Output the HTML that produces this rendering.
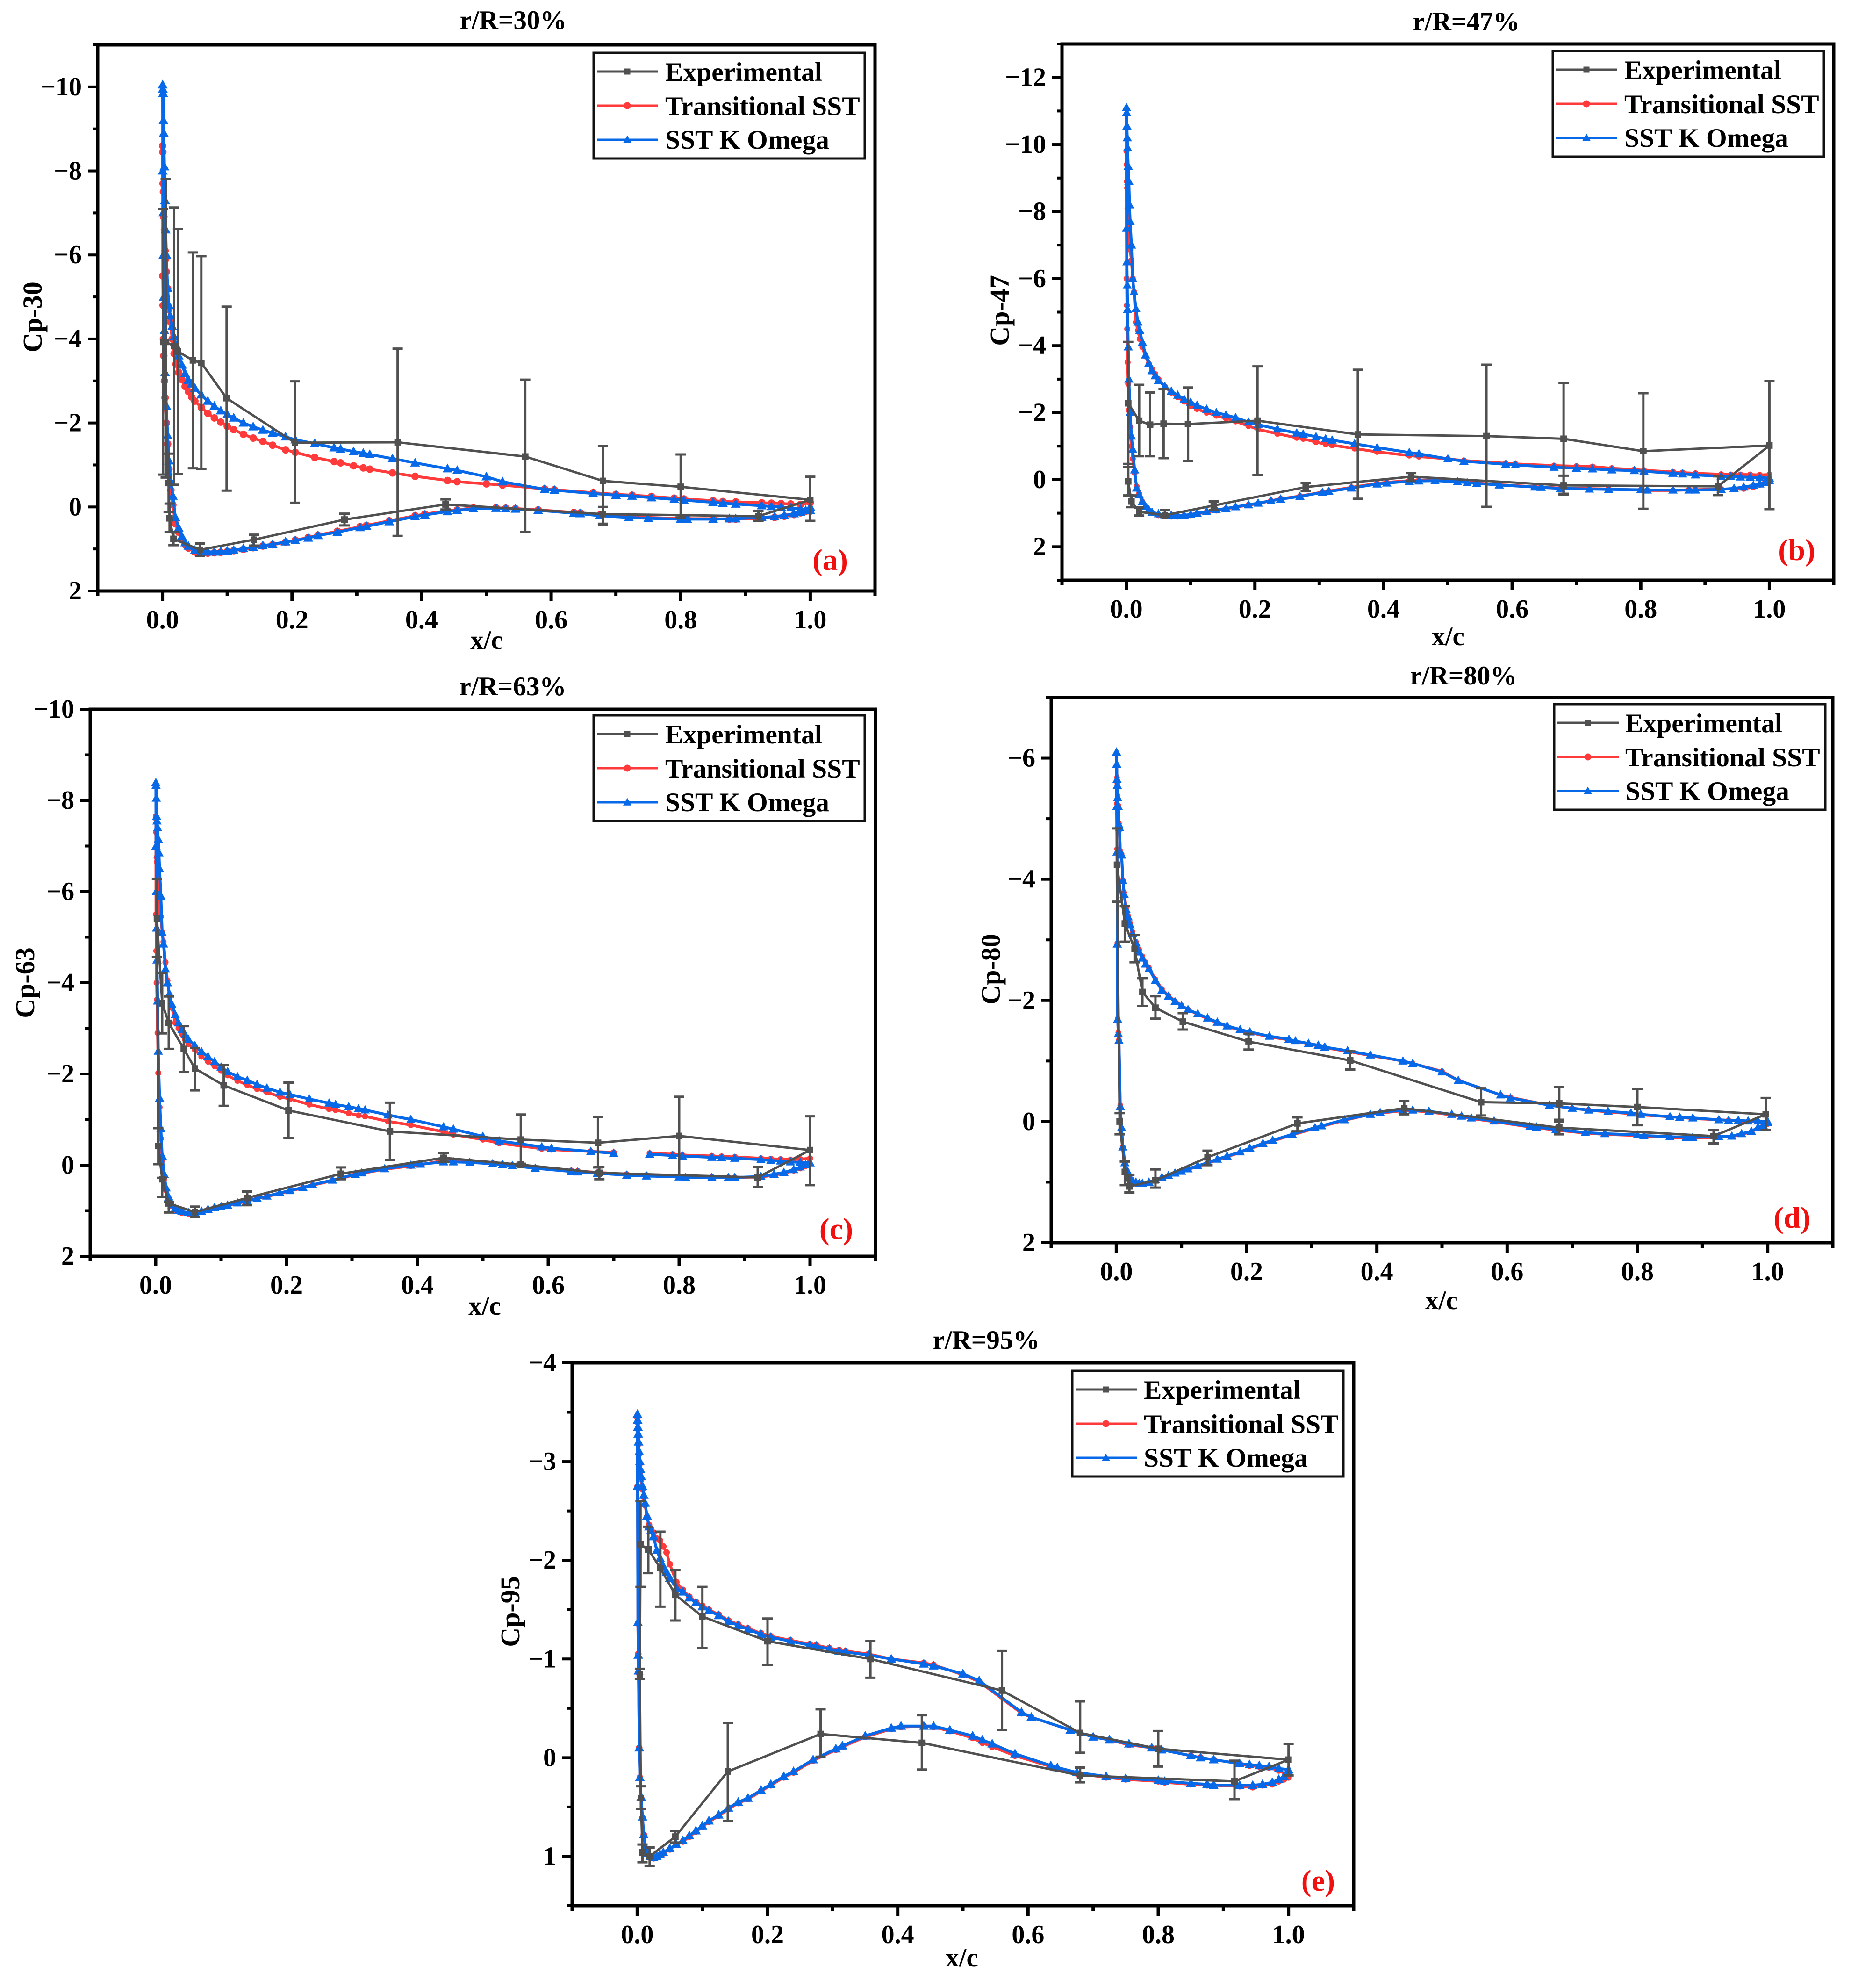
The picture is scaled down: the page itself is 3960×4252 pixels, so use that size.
<!DOCTYPE html>
<html lang="en">
<head>
<meta charset="utf-8">
<title>Pressure coefficient distributions at five radial stations</title>
<style>
html,body{margin:0;padding:0;background:#fff;}
svg{display:block;}
text{font-family:"Liberation Serif",serif;font-weight:bold;fill:#000;}
</style>
</head>
<body>
<svg id="figure" xmlns="http://www.w3.org/2000/svg" width="3960" height="4252" viewBox="0 0 3960 4252">
  <rect width="3960" height="4252" fill="#fff"/>

  <g id="panel-a">
    <text x="1098" y="62" font-size="57" text-anchor="middle">r/R=30%</text>
    <text x="1041" y="1388" font-size="57" text-anchor="middle">x/c</text>
    <text transform="translate(89 678) rotate(-90)" font-size="58" text-anchor="middle">Cp-30</text>
    <text x="1776" y="1219" font-size="65" text-anchor="middle" style="fill:#f01010">(a)</text>
    <text x="1423" y="173" font-size="57.6">Experimental</text>
    <text x="1423" y="246" font-size="57.6">Transitional SST</text>
    <text x="1423" y="318" font-size="57.6">SST K Omega</text>
  </g>

  <g id="panel-b">
    <text x="3137" y="65" font-size="57" text-anchor="middle">r/R=47%</text>
    <text x="3098" y="1380" font-size="57" text-anchor="middle">x/c</text>
    <text transform="translate(2158 664) rotate(-90)" font-size="58" text-anchor="middle">Cp-47</text>
    <text x="3844" y="1198" font-size="65" text-anchor="middle" style="fill:#f01010">(b)</text>
    <text x="3475" y="169" font-size="57.6">Experimental</text>
    <text x="3475" y="242" font-size="57.6">Transitional SST</text>
    <text x="3475" y="314" font-size="57.6">SST K Omega</text>
  </g>

  <g id="panel-c">
    <text x="1097" y="1487" font-size="57" text-anchor="middle">r/R=63%</text>
    <text x="1037" y="2812" font-size="57" text-anchor="middle">x/c</text>
    <text transform="translate(73 2102) rotate(-90)" font-size="58" text-anchor="middle">Cp-63</text>
    <text x="1789" y="2650" font-size="65" text-anchor="middle" style="fill:#f01010">(c)</text>
    <text x="1423" y="1590" font-size="57.6">Experimental</text>
    <text x="1423" y="1663" font-size="57.6">Transitional SST</text>
    <text x="1423" y="1735" font-size="57.6">SST K Omega</text>
  </g>

  <g id="panel-d">
    <text x="3131" y="1464" font-size="57" text-anchor="middle">r/R=80%</text>
    <text x="3084" y="2800" font-size="57" text-anchor="middle">x/c</text>
    <text transform="translate(2139 2073) rotate(-90)" font-size="58" text-anchor="middle">Cp-80</text>
    <text x="3834" y="2626" font-size="65" text-anchor="middle" style="fill:#f01010">(d)</text>
    <text x="3477" y="1566" font-size="57.6">Experimental</text>
    <text x="3477" y="1639" font-size="57.6">Transitional SST</text>
    <text x="3477" y="1711" font-size="57.6">SST K Omega</text>
  </g>

  <g id="panel-e">
    <text x="2110" y="2885" font-size="57" text-anchor="middle">r/R=95%</text>
    <text x="2058" y="4206" font-size="57" text-anchor="middle">x/c</text>
    <text transform="translate(1111 3447) rotate(-90)" font-size="58" text-anchor="middle">Cp-95</text>
    <text x="2820" y="4044" font-size="65" text-anchor="middle" style="fill:#f01010">(e)</text>
    <text x="2447" y="2992" font-size="57.6">Experimental</text>
    <text x="2447" y="3065" font-size="57.6">Transitional SST</text>
    <text x="2447" y="3137" font-size="57.6">SST K Omega</text>
  </g>
</svg>

<script>
// ---- Shared chordwise stations ----
const suctionX = [
 .0003,.0006,.001,.0015,.002,.003,.004,.005,.006,.008,
 .01,.012,.015,.018,.021,.025,.03,.035,.04,.045,
 .05,.06,.07,.08,.09,.10,.11,.125,.14,.155,
 .17,.19,.205,.235,.265,.275,.295,.31,.32,.355,
 .39,.44,.455,.5,.525,.59,.605,.665,.70,.725,
 .755,.79,.805,.85,.865,.885,.925,.94,.955,.97,
 .985,1.0];
const pressureX = [
 .0005,.001,.0015,.002,.003,.004,.006,.008,.01,.013,
 .016,.02,.025,.03,.035,.04,.05,.06,.07,.08,
 .09,.10,.11,.125,.14,.155,.17,.19,.205,.225,
 .24,.27,.305,.315,.35,.39,.405,.44,.455,.48,
 .515,.53,.545,.58,.635,.645,.675,.72,.75,.8,
 .81,.85,.875,.885,.925,.945,.96,.975,.985,.993,
 1.0];
const xTicks = [0,.2,.4,.6,.8,1.0];
const xTickLabels = ['0.0','0.2','0.4','0.6','0.8','1.0'];
const xMinorTicks = [-.1,.1,.3,.5,.7,.9,1.1];

// ---- Panel (a) r/R=30% ----
const aYTicks = [-10,-8,-6,-4,-2,0,2];
const aYTickLabels = ['\u221210','\u22128','\u22126','\u22124','\u22122','0','2'];
const aYMinor = [-11,-9,-7,-5,-3,-1,1];
const aSstSuction = [
 -10.05,-9.95,-9.85,-9.2,-8.9,-8.1,-7.3,-6.6,-6.0,-5.2,
 -4.8,-4.55,-4.3,-4.05,-3.85,-3.6,-3.38,-3.18,-3.02,-2.93,
 -2.83,-2.67,-2.52,-2.4,-2.29,-2.2,-2.12,-2.0,-1.91,-1.83,
 -1.76,-1.67,-1.6,-1.51,-1.41,-1.38,-1.32,-1.28,-1.25,-1.15,
 -1.05,-.91,-.87,-.72,-.6,-.42,-.4,-.32,-.28,-.26,
 -.22,-.18,-.16,-.11,-.09,-.07,-.03,-.01,0,.02,
 .05,.08];
const aSstPressure = [
 -8.0,-7,-6,-5,-4.2,-3.2,-2.4,-1.7,-1.1,-.6,
 -.26,.25,.5,.7,.85,.93,1.03,1.06,1.07,1.07,
 1.06,1.05,1.03,.99,.96,.92,.89,.83,.8,.74,
 .68,.6,.49,.46,.35,.23,.19,.11,.08,.04,
 .03,.04,.05,.08,.15,.16,.21,.25,.27,.29,
 .29,.29,.28,.28,.25,.23,.2,.16,.12,.08,
 0];
const aTransSuction = [
 -8.6,-8.45,-7.7,-7.5,-6.9,-6.6,-6.1,-5.9,-5.6,-5.2,
 -4.7,-4.4,-4.0,-3.65,-3.4,-3.2,-3.03,-2.87,-2.75,-2.62,
 -2.52,-2.37,-2.23,-2.12,-2.02,-1.92,-1.84,-1.73,-1.64,-1.56,
 -1.47,-1.36,-1.3,-1.18,-1.08,-1.05,-.98,-.93,-.9,-.81,
 -.73,-.63,-.6,-.55,-.52,-.43,-.41,-.34,-.3,-.28,
 -.25,-.21,-.19,-.15,-.13,-.12,-.1,-.09,-.08,-.07,
 -.06,-.1];
const aTransPressure = [
 -5.5,-4.8,-4,-3.6,-3,-2.6,-2,-1.5,-.9,-.4,
 -.05,.4,.6,.78,.9,.98,1.07,1.09,1.1,1.09,
 1.08,1.06,1.04,1.01,.97,.93,.9,.84,.79,.73,
 .67,.58,.47,.44,.33,.21,.17,.09,.07,.02,
 .02,.03,.04,.07,.13,.14,.19,.23,.25,.28,
 .28,.28,.29,.29,.27,.25,.22,.18,.14,.1,
 .1];
const aExpX = [1.0,.8,.68,.56,.363,.2045,.099,.06,.047,.024,.018,.005,.001,.0095,.011,.017,.058,.141,.281,.437,.68,.92];
const aExpCp = [-.17,-.48,-.62,-1.2,-1.54,-1.53,-2.59,-3.43,-3.49,-3.7,-3.83,-3.93,-3.93,-.57,.27,.76,1.02,.78,.3,-.06,.17,.22];
const aExpTop = [-.72,-1.25,-1.45,-3.03,-3.77,-2.99,-4.77,-5.97,-6.06,-6.62,-7.13,-7.8,-7.09,-1.27,-.08,.6,.87,.66,.16,-.18,0,.1];
const aExpBottom = [.33,.25,.42,.6,.69,-.1,-.39,-.9,-.92,-.78,-.53,-.7,-.77,.12,.6,.91,1.16,.92,.44,.06,.4,.33];

// ---- Panel (b) r/R=47% ----
const bYTicks = [-12,-10,-8,-6,-4,-2,0,2];
const bYTickLabels = ['\u221212','\u221210','\u22128','\u22126','\u22124','\u22122','0','2'];
const bYMinor = [-13,-11,-9,-7,-5,-3,-1,1,3];
const bSstSuction = [
 -11.1,-10.95,-10.55,-10.2,-9.9,-9.35,-8.9,-8.2,-7.7,-7.0,
 -6.0,-5.6,-5.1,-4.7,-4.45,-4.1,-3.72,-3.47,-3.25,-3.1,
 -2.96,-2.78,-2.64,-2.52,-2.4,-2.31,-2.22,-2.1,-2.0,-1.93,
 -1.85,-1.72,-1.64,-1.51,-1.39,-1.36,-1.28,-1.22,-1.18,-1.07,
 -.96,-.81,-.77,-.62,-.55,-.46,-.44,-.37,-.34,-.32,
 -.29,-.27,-.25,-.19,-.17,-.14,-.1,-.09,-.08,-.07,
 -.06,-.05];
const bSstPressure = [
 -7.5,-6.5,-5.8,-5.08,-3.96,-3.0,-2.0,-1.3,-.9,-.29,
 .25,.45,.65,.8,.9,.97,1.02,1.05,1.06,1.07,
 1.06,1.04,1.0,.95,.9,.86,.81,.75,.7,.63,
 .58,.5,.38,.35,.25,.13,.1,.05,.04,.03,
 .06,.09,.11,.16,.22,.23,.26,.28,.29,.3,
 .31,.31,.31,.31,.29,.26,.22,.17,.13,.08,
 .03];
const bTransSuction = [
 -9.8,-9.4,-8.9,-8.7,-8.1,-7.8,-7.4,-7.1,-6.85,-6.55,
 -6.0,-5.6,-4.7,-4.45,-4.2,-3.95,-3.68,-3.46,-3.3,-3.15,
 -3.0,-2.78,-2.6,-2.46,-2.33,-2.2,-2.11,-2.0,-1.91,-1.83,
 -1.74,-1.6,-1.5,-1.37,-1.25,-1.22,-1.12,-1.06,-1.03,-.93,
 -.83,-.72,-.69,-.62,-.57,-.49,-.47,-.42,-.4,-.39,
 -.34,-.3,-.28,-.23,-.21,-.19,-.16,-.15,-.15,-.15,
 -.14,-.15];
const bTransPressure = [
 -6.0,-5.2,-4.5,-3.5,-2.86,-2.07,-1.57,-1.0,-.62,-.2,
 .2,.42,.66,.82,.93,1.0,1.06,1.09,1.1,1.1,
 1.08,1.06,1.02,.97,.92,.87,.82,.76,.71,.63,
 .57,.49,.37,.34,.23,.11,.08,.03,.02,.02,
 .05,.07,.1,.15,.21,.22,.25,.27,.28,.31,
 .32,.32,.3,.3,.28,.28,.27,.22,.15,.1,
 .05];
const bExpX = [1.0,.804,.68,.56,.36,.204,.096,.058,.037,.02,.003,.003,.008,.02,.06,.136,.279,.443,.68,.92];
const bExpCp = [-1.02,-.85,-1.22,-1.3,-1.35,-1.76,-1.66,-1.67,-1.64,-1.76,-2.28,.05,.65,.96,1.06,.77,.22,-.09,.17,.2];
const bExpTop = [-2.95,-2.58,-2.89,-3.43,-3.28,-3.38,-2.75,-2.7,-2.6,-2.83,-4.11,-.37,.47,.83,.9,.65,.1,-.2,-.12,-.1];
const bExpBottom = [.88,.87,.42,.81,.57,-.14,-.55,-.64,-.7,-.7,-.47,.47,.82,1.07,1.1,.9,.34,.04,.44,.46];

// ---- Panel (c) r/R=63% ----
const cYTicks = [-10,-8,-6,-4,-2,0,2];
const cYTickLabels = ['\u221210','\u22128','\u22126','\u22124','\u22122','0','2'];
const cYMinor = [-9,-7,-5,-3,-1,1];
const cSstSuction = [
 -8.39,-8.33,-8.05,-7.65,-7.55,-7.4,-7.15,-6.85,-6.5,-5.9,
 -5.1,-4.85,-4.3,-4.0,-3.76,-3.52,-3.3,-3.12,-2.97,-2.86,
 -2.76,-2.62,-2.49,-2.38,-2.27,-2.15,-2.05,-1.94,-1.86,-1.77,
 -1.69,-1.6,-1.55,-1.45,-1.36,-1.33,-1.28,-1.24,-1.21,-1.1,
 -1.0,-.84,-.79,-.63,-.53,-.4,-.37,-.3,-.26,null,
 -.24,-.21,-.2,-.17,-.16,-.15,-.12,-.1,-.09,-.07,
 -.06,-.05];
const cSstPressure = [
 -7.0,-6.0,-5.2,-4.5,-3.6,-2.5,-1.47,-.8,-.2,.2,
 .5,.7,.87,.95,1.0,1.02,1.04,1.04,1.01,.97,
 .93,.91,.88,.83,.78,.73,.68,.61,.56,.49,
 .43,.33,.2,.17,.08,0,-.02,-.07,-.07,-.06,
 -.03,-.01,.01,.07,.14,.15,.18,.22,.24,.26,
 .27,.27,.27,.27,.25,.2,.16,.1,.04,-.01,
 -.05];
const cTransSuction = [
 -7.65,-7.6,-7.3,-6.75,-6.65,-6.3,-6.05,-5.75,-5.5,-5.45,
 -5.1,-4.9,-4.45,-4.05,-3.72,-3.45,-3.12,-3.0,-2.88,-2.76,
 -2.66,-2.53,-2.38,-2.27,-2.17,-2.07,-1.97,-1.85,-1.76,-1.67,
 -1.6,-1.5,-1.45,-1.33,-1.23,-1.21,-1.14,-1.09,-1.07,-.96,
 -.88,-.73,-.67,-.56,-.48,-.36,-.34,-.3,-.28,null,
 -.26,-.24,-.22,-.2,-.19,-.18,-.15,-.14,-.13,-.12,
 -.13,-.15];
const cTransPressure = [
 -5.5,-4.7,-4.0,-3.63,-2.9,-2.02,-1.27,-.58,-.1,.3,
 .55,.73,.9,.98,1.02,1.05,1.07,1.06,1.02,.98,
 .94,.91,.88,.84,.79,.73,.69,.62,.57,.5,
 .44,.34,.21,.18,.09,.02,-.01,-.1,-.1,-.08,
 -.04,-.02,0,.06,.12,.13,.16,.2,.22,.25,
 .26,.26,.27,.27,.26,.22,.18,.12,.07,.02,
 -.15];
const cExpX = [1.0,.8,.676,.558,.358,.203,.104,.06,.043,.02,.01,.002,.004,.01,.02,.06,.14,.283,.44,.558,.678,.92];
const cExpCp = [-.33,-.64,-.49,-.56,-.74,-1.2,-1.75,-2.12,-2.55,-3.12,-3.55,-5.41,-.42,.31,.84,1.03,.72,.19,-.16,-.01,.17,.27];
const cExpTop = [-1.07,-1.5,-1.06,-1.11,-1.37,-1.81,-2.2,-2.57,-3.05,-3.7,-4.22,-6.28,-.81,.28,.81,.91,.58,.05,-.27,-.03,.04,.04];
const cExpBottom = [.44,.22,.05,-.01,-.11,-.6,-1.3,-1.64,-2.04,-2.55,-2.89,-4.56,-.02,.7,1.04,1.14,.88,.31,-.07,.02,.31,.48];

// ---- Panel (d) r/R=80% ----
const dYTicks = [-6,-4,-2,0,2];
const dYTickLabels = ['\u22126','\u22124','\u22122','0','2'];
const dYMinor = [-7,-5,-3,-1,1];
const dSstSuction = [
 -6.1,-5.9,-5.65,-5.55,-5.35,-5.2,-4.9,-4.85,-4.45,-4.4,
 -3.98,-3.75,-3.5,-3.38,-3.25,-3.1,-2.95,-2.8,-2.7,-2.6,
 -2.52,-2.33,-2.17,-2.07,-1.98,-1.91,-1.85,-1.78,-1.71,-1.64,
 -1.58,-1.52,-1.48,-1.41,-1.36,-1.33,-1.29,-1.26,-1.23,-1.17,
 -1.1,-1.0,-.96,-.82,-.68,-.44,-.39,-.27,-.22,-.19,
 -.17,-.14,-.12,-.08,-.07,-.06,-.03,-.02,-.02,-.01,
 -.01,0];
const dSstPressure = [
 -5.2,-4.45,-2.93,-1.69,-1.45,-1.34,-.25,.1,.42,.68,
 .8,.92,.98,1.0,1.02,1.02,1.0,.96,.92,.89,
 .85,.82,.78,.73,.68,.62,.57,.5,.44,.36,
 .31,.21,.1,.07,-.03,-.12,-.15,-.19,-.19,-.17,
 -.12,-.09,-.06,-.01,.08,.09,.13,.18,.2,.22,
 .23,.25,.26,.26,.25,.24,.2,.16,.1,.06,
 .02];
const dTransSuction = [
 -6.08,-5.88,-5.68,-5.58,-5.38,-5.22,-4.92,-4.82,-4.47,-4.42,
 -3.99,-3.78,-3.53,-3.4,-3.28,-3.13,-2.97,-2.84,-2.73,-2.63,
 -2.54,-2.35,-2.19,-2.08,-1.99,-1.92,-1.85,-1.77,-1.7,-1.63,
 -1.57,-1.51,-1.47,-1.4,-1.35,-1.32,-1.28,-1.25,-1.22,-1.16,
 -1.09,-1.0,-.96,-.83,-.68,-.44,-.4,-.27,-.22,-.19,
 -.16,-.13,-.11,-.08,-.07,-.05,-.03,-.02,-.01,0,
 0,.01];
const dTransPressure = [
 -5.25,-4.5,-2.95,-1.7,-1.47,-1.35,-.27,.12,.42,.68,
 .8,.93,.99,1.01,1.03,1.03,1.01,.97,.93,.9,
 .86,.83,.79,.74,.69,.63,.58,.51,.45,.37,
 .32,.22,.11,.08,-.02,-.12,-.14,-.18,-.18,-.16,
 -.11,-.08,-.05,0,.09,.1,.14,.19,.21,.23,
 .24,.26,.27,.27,.26,.25,.21,.17,.11,.07,
 .04];
const dExpX = [.997,.80,.68,.56,.359,.203,.102,.06,.04,.028,.013,.001,.005,.013,.02,.06,.14,.278,.442,.68,.917];
const dExpCp = [-.12,-.24,-.3,-.32,-1.01,-1.32,-1.65,-1.88,-2.14,-2.85,-3.27,-4.24,0,.83,1.07,.97,.59,.03,-.22,.1,.24];
const dExpTop = [-.39,-.54,-.57,-.55,-1.16,-1.45,-1.79,-2.07,-2.37,-3.08,-3.56,-4.84,-.14,.66,.88,.79,.48,-.07,-.34,0,.14];
const dExpBottom = [.14,.06,-.03,-.1,-.86,-1.19,-1.52,-1.7,-1.91,-2.63,-2.97,-3.63,.21,1.05,1.17,1.09,.72,.16,-.12,.21,.36];

// ---- Panel (e) r/R=95% ----
const eYTicks = [-4,-3,-2,-1,0,1];
const eYTickLabels = ['\u22124','\u22123','\u22122','\u22121','0','1'];
const eYMinor = [-3.5,-2.5,-1.5,-.5,.5,1.5];
const eSstSuction = [
 -3.48,-3.42,-3.35,-3.28,-3.2,-3.1,-3.0,-2.92,-2.85,-2.75,
 -2.66,-2.58,-2.45,-2.34,-2.3,-2.24,-2.1,-2.02,-1.94,-1.88,
 -1.82,-1.72,-1.68,-1.62,-1.57,-1.53,-1.49,-1.44,-1.38,-1.34,
 -1.3,-1.25,-1.22,-1.18,-1.14,-1.13,-1.1,-1.08,-1.07,-1.04,
 -1.0,-.95,-.93,-.85,-.78,-.46,-.41,-.28,-.21,-.18,
 -.14,-.1,-.08,-.02,0,.02,.06,.07,.08,.09,
 .11,.12];
const eSstPressure = [
 -2.75,-1.37,-1.04,-.88,-.1,.2,.4,.6,.78,.92,
 .97,1.0,1.01,1.0,.98,.96,.92,.88,.84,.79,
 .74,.69,.64,.58,.51,.45,.41,.33,.27,.19,
 .14,.02,-.09,-.12,-.22,-.3,-.32,-.32,-.32,-.28,
 -.22,-.18,-.14,-.04,.08,.1,.15,.19,.21,.23,
 .24,.26,.27,.28,.28,.28,.27,.25,.22,.19,
 .14];
const eTransSuction = [
 -3.45,-3.4,-3.33,-3.26,-3.18,-3.08,-2.98,-2.9,-2.82,-2.72,
 -2.64,-2.56,-2.44,-2.36,-2.32,-2.28,-2.22,-2.2,-2.14,-2.08,
 -1.96,-1.78,-1.7,-1.63,-1.58,-1.54,-1.5,-1.45,-1.39,-1.35,
 -1.31,-1.26,-1.23,-1.19,-1.15,-1.14,-1.11,-1.09,-1.08,-1.05,
 -1.0,-.96,-.94,-.84,-.77,-.45,-.41,-.28,-.21,-.18,
 -.13,-.1,-.08,-.02,0,.02,.06,.08,.09,.1,
 .13,.18];
const eTransPressure = [
 -2.75,-1.36,-1.05,-.86,-.1,.2,.41,.61,.78,.93,
 .98,1.01,1.02,1.01,.99,.97,.93,.88,.85,.8,
 .75,.7,.65,.59,.52,.46,.42,.34,.28,.2,
 .15,.03,-.08,-.11,-.21,-.29,-.31,-.32,-.31,-.27,
 -.2,-.15,-.11,-.02,.09,.11,.16,.2,.22,.24,
 .25,.27,.28,.28,.29,.3,.28,.27,.24,.22,
 .2];
const eExpX = [1.0,.80,.68,.56,.358,.2,.1,.0585,.0355,.017,.005,.004,.0055,.008,.019,.0585,.139,.2815,.437,.68,.917];
const eExpCp = [.02,-.09,-.25,-.68,-1.0,-1.18,-1.43,-1.65,-1.92,-2.11,-2.16,-.84,.41,.96,1.0,.8,.14,-.24,-.15,.18,.24];
const eExpTop = [-.14,-.27,-.57,-1.08,-1.18,-1.41,-1.73,-1.9,-2.29,-2.34,-2.6,-.9,.29,.88,.91,.74,-.35,-.49,-.43,.1,.03];
const eExpBottom = [.18,.09,-.05,-.28,-.81,-.94,-1.11,-1.39,-1.53,-1.87,-1.73,-.8,.52,1.06,1.1,.86,.64,-.01,.12,.25,.42];

// ---- Panel layout (frames and legend boxes, no data) ----
const panels = [
 {id:'a',left:209,right:1872,top:96,bottom:1264,yMin:-11,yMax:2,lx:1270,ly:113,ms:10.5,cr:8,
  yTicks:aYTicks,yLabels:aYTickLabels,yMinor:aYMinor,sstS:aSstSuction,sstP:aSstPressure,trS:aTransSuction,trP:aTransPressure,ex:aExpX,ec:aExpCp,et:aExpTop,eb:aExpBottom},
 {id:'b',left:2272,right:3923,top:94,bottom:1241,yMin:-13,yMax:3,lx:3322,ly:109,ms:10,cr:6.5,
  yTicks:bYTicks,yLabels:bYTickLabels,yMinor:bYMinor,sstS:bSstSuction,sstP:bSstPressure,trS:bTransSuction,trP:bTransPressure,ex:bExpX,ec:bExpCp,et:bExpTop,eb:bExpBottom},
 {id:'c',left:193,right:1873,top:1517,bottom:2687,yMin:-10,yMax:2,lx:1270,ly:1530,ms:10,cr:6.5,
  yTicks:cYTicks,yLabels:cYTickLabels,yMinor:cYMinor,sstS:cSstSuction,sstP:cSstPressure,trS:cTransSuction,trP:cTransPressure,ex:cExpX,ec:cExpCp,et:cExpTop,eb:cExpBottom},
 {id:'d',left:2249,right:3921,top:1492,bottom:2658,yMin:-7,yMax:2,lx:3325,ly:1506,ms:10,cr:6,
  yTicks:dYTicks,yLabels:dYTickLabels,yMinor:dYMinor,sstS:dSstSuction,sstP:dSstPressure,trS:dTransSuction,trP:dTransPressure,ex:dExpX,ec:dExpCp,et:dExpTop,eb:dExpBottom},
 {id:'e',left:1224,right:2896,top:2915,bottom:4076,yMin:-4,yMax:1.5,lx:2294,ly:2932,ms:10.5,cr:7,
  yTicks:eYTicks,yLabels:eYTickLabels,yMinor:eYMinor,sstS:eSstSuction,sstP:eSstPressure,trS:eTransSuction,trP:eTransPressure,ex:eExpX,ec:eExpCp,et:eExpTop,eb:eExpBottom}
];

const SVGNS = 'http://www.w3.org/2000/svg';
const GREY = '#505050', RED = '#ff3a3a', BLUE = '#0869e8';

function el(parent, tag, props){
  const e = document.createElementNS(SVGNS, tag);
  for (const k in props) e.setAttribute(k, props[k]);
  parent.appendChild(e);
  return e;
}

function triPoints(cx, cy, s){
  return (cx-s)+','+(cy+s*0.75)+' '+(cx+s)+','+(cy+s*0.75)+' '+cx+','+(cy-s*1.05);
}

function drawSeries(g, p, sx, sy, suction, pressure, color, kind){
  const pts = [];
  for (let i = suctionX.length-1; i >= 0; i--) pts.push([suctionX[i], suction[i]]);
  for (let i = 0; i < pressureX.length; i++) pts.push([pressureX[i], pressure[i]]);
  let seg = [];
  const flush = function(){
    if (seg.length > 1) {
      const line = el(g, 'polyline', {points: seg.join(' '), fill:'none', stroke:color, 'stroke-width':6, 'stroke-linejoin':'round'});
      
      
    }
    seg = [];
  };
  pts.forEach(function(pt){
    if (pt[1] === null || pt[1] === undefined) { flush(); return; }
    seg.push(sx(pt[0]) + ',' + sy(pt[1]));
  });
  flush();
  pts.forEach(function(pt){
    if (pt[1] === null || pt[1] === undefined) return;
    let m;
    if (kind === 'sst-k-omega') {
      m = el(g, 'polygon', {points: triPoints(sx(pt[0]), sy(pt[1]), p.ms), fill:color});
    } else {
      m = el(g, 'circle', {cx: sx(pt[0]), cy: sy(pt[1]), r: p.cr, fill:color});
    }
    
    
  });
}

function drawExperimental(g, p, sx, sy){
  const pts = p.ex.map(function(x, i){ return sx(x) + ',' + sy(p.ec[i]); });
  pts.push(sx(p.ex[0]) + ',' + sy(p.ec[0]));
  const line = el(g, 'polyline', {points: pts.join(' '), fill:'none', stroke:GREY, 'stroke-width':5, 'stroke-linejoin':'round'});
  
  
  p.ex.forEach(function(x, i){
    const px = sx(x), t = sy(p.et[i]), b = sy(p.eb[i]);
    const bar = el(g, 'path', {d: 'M'+px+' '+t+'V'+b+'M'+(px-11)+' '+t+'H'+(px+11)+'M'+(px-11)+' '+b+'H'+(px+11), fill:'none', stroke:GREY, 'stroke-width':5});
    
    
    const m = el(g, 'rect', {x:px-7, y:sy(p.ec[i])-7, width:14, height:14, fill:GREY});
    
    
  });
}

function drawAxes(g, p, sx, sy){
  const frame = el(g, 'rect', {x:p.left, y:p.top, width:p.right-p.left, height:p.bottom-p.top, fill:'none', stroke:'#000', 'stroke-width':7});
  
  
  xTicks.forEach(function(v, i){
    const t = el(g, 'rect', {x:sx(v)-3.5, y:p.bottom, width:7, height:21, fill:'#000'});
    
    
    const l = el(g, 'text', {x:sx(v), y:p.bottom+80, 'font-size':56, 'text-anchor':'middle'});
    l.textContent = xTickLabels[i];
    
    
  });
  xMinorTicks.forEach(function(v){
    const t = el(g, 'rect', {x:sx(v)-3.5, y:p.bottom, width:7, height:11, fill:'#000'});
    
    
  });
  p.yTicks.forEach(function(v, i){
    const t = el(g, 'rect', {x:p.left-21, y:sy(v)-3, width:21, height:6, fill:'#000'});
    
    
    const l = el(g, 'text', {x:p.left-34, y:sy(v)+18, 'font-size':56, 'text-anchor':'end'});
    l.textContent = p.yLabels[i];
    
    
  });
  p.yMinor.forEach(function(v){
    const t = el(g, 'rect', {x:p.left-11, y:sy(v)-3, width:11, height:6, fill:'#000'});
    
    
  });
}

function drawLegend(g, p){
  const box = el(g, 'rect', {x:p.lx, y:p.ly, width:580, height:226, fill:'none', stroke:'#111', 'stroke-width':5});
  
  
  const x1 = p.lx+7, x2 = p.lx+138, mx = p.lx+72;
  const rows = [[40,GREY,'experimental'],[113,RED,'transitional-sst'],[186,BLUE,'sst-k-omega']];
  rows.forEach(function(r){
    const y = p.ly + r[0];
    const swatch = el(g, 'line', {x1:x1, x2:x2, y1:y, y2:y, stroke:r[1], 'stroke-width':5});
    
    
    let m;
    if (r[2] === 'experimental') m = el(g, 'rect', {x:mx-6.5, y:y-6.5, width:13, height:13, fill:r[1]});
    else if (r[2] === 'transitional-sst') m = el(g, 'circle', {cx:mx, cy:y, r:7.5, fill:r[1]});
    else m = el(g, 'polygon', {points: triPoints(mx, y, 9), fill:r[1]});
    
    
  });
}

panels.forEach(function(p){
  const g = document.getElementById('panel-' + p.id);
  const sx = function(v){ return +(p.left + (v + 0.1) / 1.2 * (p.right - p.left)).toFixed(2); };
  const sy = function(v){ return +(p.top + (v - p.yMin) / (p.yMax - p.yMin) * (p.bottom - p.top)).toFixed(2); };
  drawSeries(g, p, sx, sy, p.trS, p.trP, RED, 'transitional-sst');
  drawSeries(g, p, sx, sy, p.sstS, p.sstP, BLUE, 'sst-k-omega');
  drawExperimental(g, p, sx, sy);
  drawAxes(g, p, sx, sy);
  drawLegend(g, p);
});
</script>
</body>
</html>
